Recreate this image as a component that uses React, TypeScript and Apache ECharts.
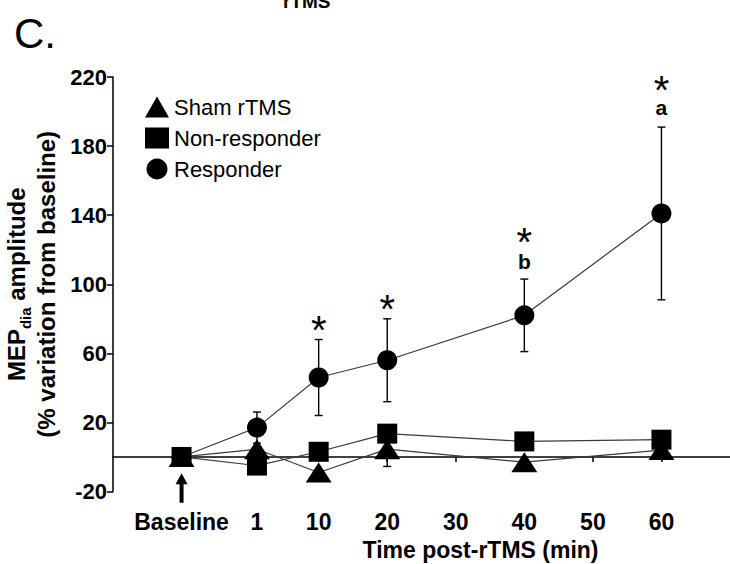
import React, { useEffect, useRef } from 'react';
import * as echarts from 'echarts';

// ---------- data ----------
const categories = ['Baseline', '1', '10', '20', '30', '40', '50', '60'];
const categoryPos = [1, 2.1, 3, 4, 5, 6, 7, 8]; // where each time label sits on the axis
const timePoints = ['Baseline', '1', '10', '20', '40', '60'];
const shamMean = [0, 4.5, -9, 4.5, -3, 4];
const shamErr = [0, 0, 0, 10, 0, 0];
const nonRespMean = [0, -5, 3, 13.5, 9, 10];
const nonRespErr = [0, 0, 0, 0, 0, 0];
const respMean = [0, 17, 46, 56, 82, 141];
const respErr = [0, 9, 22, 24, 21, 50];
const respStar = [false, false, true, true, true, true];
const respLetter = ['', '', '', '', 'b', 'a'];
const yTicks = [-20, 20, 60, 100, 140, 180, 220];
const baselineArrow = [-26.5, -9.5]; // shaft start, tip (y values)

const FONT = "'Liberation Sans', Arial, sans-serif";

const xPos = (t: string) => categoryPos[categories.indexOf(t)];

function makeErrData(mean: number[], err: number[]) {
  return timePoints.map((t, i) => [xPos(t), mean[i], err[i]]);
}

function errRender(stars: boolean[] | null, letters: string[] | null) {
  return (params: any, api: any) => {
    const x = api.value(0);
    const m = api.value(1);
    const e = api.value(2);
    const children: any[] = [];
    const lineStyle = { stroke: '#000', lineWidth: 1.4 };
    const top = api.coord([x, m + e]);
    const bot = api.coord([x, m - e]);
    if (e > 0) {
      children.push({ type: 'line', shape: { x1: top[0], y1: top[1], x2: bot[0], y2: bot[1] }, style: lineStyle });
      children.push({ type: 'line', shape: { x1: top[0] - 4, y1: top[1], x2: top[0] + 4, y2: top[1] }, style: lineStyle });
      children.push({ type: 'line', shape: { x1: bot[0] - 4, y1: bot[1], x2: bot[0] + 4, y2: bot[1] }, style: lineStyle });
    }
    const idx = params.dataIndex;
    const letter = letters ? letters[idx] : '';
    if (letter) {
      children.push({
        type: 'text',
        style: { text: letter, x: top[0], y: top[1] - 18 - (letter === 'a' ? 2 : 0), font: `bold 21px ${FONT}`, fill: '#000', textAlign: 'center', textVerticalAlign: 'middle' },
      });
    }
    if (stars && stars[idx]) {
      const c = top[1] - (letter ? 46 : 19);
      children.push({
        type: 'text',
        style: { text: '*', x: top[0], y: c + 9, font: `normal 40px ${FONT}`, fill: '#000', textAlign: 'center', textVerticalAlign: 'middle' },
      });
    }
    return { type: 'group', children };
  };
}

export default function App() {
  const ref = useRef<HTMLDivElement>(null);
  useEffect(() => {
    document.body.style.margin = '0';
    if (!ref.current) return;
    const chart = echarts.init(ref.current, undefined, { renderer: 'svg' });
    const lineStyle = { color: '#3a3a3a', width: 1.2 };
    const option: any = {
      animation: false,
      backgroundColor: '#fff',
      grid: { left: 113, right: 0, top: 77, bottom: 72.5, containLabel: false, outerBoundsMode: 'none' },
      legend: {
        orient: 'vertical',
        left: 140,
        top: 91,
        itemWidth: 24,
        itemHeight: 21,
        itemGap: 9,
        data: [
          { name: 'Sham rTMS', icon: 'triangle' },
          { name: 'Non-responder', icon: 'rect' },
          { name: 'Responder', icon: 'circle' },
        ],
        textStyle: { fontFamily: FONT, fontSize: 22, color: '#000' },
      },
      graphic: [
        { type: 'text', left: 14, top: 12, style: { text: 'C.', font: `normal 42px ${FONT}`, fill: '#000' } },
        { type: 'text', x: 283, y: -8, style: { text: 'rTMS', font: `bold 19px ${FONT}`, fill: '#000', textVerticalAlign: 'top' } },
      ],
      xAxis: {
        type: 'value',
        min: 0,
        max: 9,
        interval: 1,
        axisLine: { onZero: true, lineStyle: { color: '#000', width: 1.5 } },
        axisTick: { show: true, length: 5, lineStyle: { color: '#000', width: 1.5 }, customValues: categoryPos },
        axisLabel: {
          customValues: categoryPos,
          formatter: (v: number) => {
            const i = categoryPos.findIndex((p) => Math.abs(p - v) < 1e-6);
            return i >= 0 ? categories[i] : '';
          },
          margin: 19,
          fontFamily: FONT,
          fontWeight: 'bold',
          fontSize: 23,
          color: '#000',
        },
        splitLine: { show: false },
        name: 'Time post-rTMS (min)',
        nameLocation: 'middle',
        nameGap: 46,
        nameTextStyle: { fontFamily: FONT, fontWeight: 'bold', fontSize: 23, color: '#000', padding: [0, 0, 0, 118] },
      },
      yAxis: {
        type: 'value',
        min: -20,
        max: 220,
        interval: 40,
        axisLine: { show: true, onZero: false, lineStyle: { color: '#000', width: 1.5 } },
        axisTick: { show: true, length: 6, lineStyle: { color: '#000', width: 1.5 }, customValues: yTicks },
        axisLabel: { customValues: yTicks, margin: 6, fontFamily: FONT, fontWeight: 'bold', fontSize: 22, color: '#000' },
        splitLine: { show: false },
        name: '{a|MEP}{s|dia}{a| amplitude}\n{a|(% variation from baseline)}',
        nameLocation: 'middle',
        nameGap: 46,
        nameTextStyle: {
          fontFamily: FONT,
          fontWeight: 'bold',
          fontSize: 24,
          color: '#000',
          lineHeight: 26,
          rich: {
            a: { fontFamily: FONT, fontWeight: 'bold', fontSize: 24, color: '#000', lineHeight: 26 },
            s: { fontFamily: FONT, fontWeight: 'bold', fontSize: 15, color: '#000', lineHeight: 33, verticalAlign: 'bottom' },
          },
        },
      },
      series: [
        {
          name: 'Responder',
          type: 'line',
          z: 2,
          data: timePoints.map((t, i) => [xPos(t), respMean[i]]),
          symbol: 'circle',
          symbolSize: 20,
          itemStyle: { color: '#000' },
          lineStyle,
        },
        {
          name: 'Sham rTMS',
          type: 'line',
          z: 3,
          data: timePoints.map((t, i) => [xPos(t), shamMean[i]]),
          symbol: 'triangle',
          symbolSize: [26, 20],
          itemStyle: { color: '#000' },
          lineStyle,
        },
        {
          name: 'Non-responder',
          type: 'line',
          z: 4,
          data: timePoints.map((t, i) => [xPos(t), nonRespMean[i]]),
          symbol: 'rect',
          symbolSize: 20,
          itemStyle: { color: '#000' },
          lineStyle,
        },
        {
          type: 'custom',
          z: 1,
          data: makeErrData(respMean, respErr),
          encode: { x: 0, y: 1 },
          renderItem: errRender(respStar, respLetter),
        },
        {
          type: 'custom',
          z: 1,
          data: makeErrData(shamMean, shamErr),
          encode: { x: 0, y: 1 },
          renderItem: errRender(null, null),
        },
        {
          type: 'custom',
          z: 1,
          data: makeErrData(nonRespMean, nonRespErr),
          encode: { x: 0, y: 1 },
          renderItem: errRender(null, null),
        },
        {
          type: 'custom',
          z: 5,
          clip: false,
          data: [[xPos('Baseline'), baselineArrow[0], baselineArrow[1]]],
          encode: { x: 0, y: 1 },
          renderItem: (params: any, api: any) => {
            const x = api.value(0);
            const a = api.coord([x, api.value(1)]);
            const b = api.coord([x, api.value(2)]);
            return {
              type: 'group',
              children: [
                { type: 'line', shape: { x1: a[0], y1: a[1], x2: b[0], y2: b[1] + 8 }, style: { stroke: '#000', lineWidth: 4 } },
                { type: 'polygon', shape: { points: [[b[0], b[1]], [b[0] - 6, b[1] + 11], [b[0] + 6, b[1] + 11]] }, style: { fill: '#000' } },
              ],
            };
          },
        },
      ],
    };
    chart.setOption(option);
    return () => chart.dispose();
  }, []);
  return <div ref={ref} style={{ width: 730, height: 564 }} />;
}
